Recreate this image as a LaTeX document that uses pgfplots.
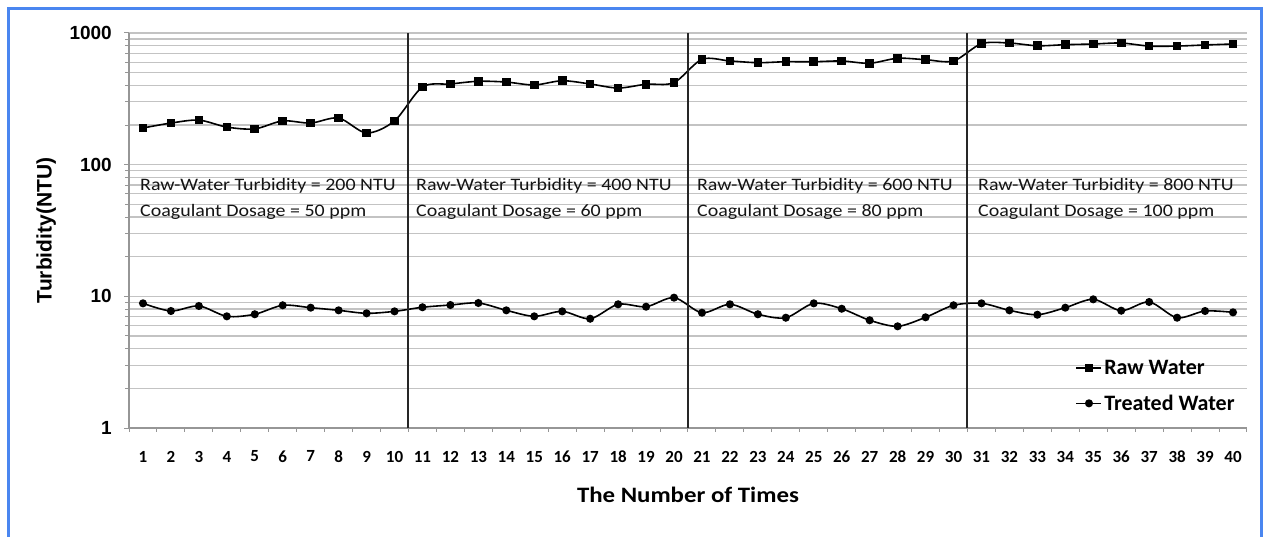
\documentclass[border=0pt]{standalone}
\usepackage{fontspec}
\setmainfont{Carlito}
\newfontfamily\arial{Liberation Sans}
\newfontfamily\annfont{Carlito}[FakeStretch=1.14]
\newfontfamily\labfont{Carlito}[FakeStretch=1.13]
\usepackage{pgfplots}
\pgfplotsset{compat=1.18}
\definecolor{frameblue}{RGB}{74,134,240}
\definecolor{gridgray}{RGB}{195,195,195}
\definecolor{axisgray}{RGB}{150,150,150}
\definecolor{txt}{RGB}{20,20,20}
\begin{document}
\begin{tikzpicture}
\useasboundingbox (0pt,0pt) rectangle (1264pt,536pt);
\draw[frameblue, line width=3pt] (8pt,-20pt) rectangle (1261pt,527.3pt);
\begin{axis}[
  at={(129pt,108pt)}, anchor=south west,
  scale only axis, width=1118pt, height=395pt,
  ymode=log, ymin=1, ymax=1000,
  xmin=0.5, xmax=40.5,
  axis lines*=left,
  axis line style={draw=axisgray, line width=1.2pt},
  tick align=outside,
  major tick length=5pt, minor tick length=4pt,
  tick style={draw=axisgray, line width=1pt},
  xtick={1,...,40},
  major x tick style={draw=none},
  minor xtick={0.5,1.5,...,40.5},
  ytick={1,10,100,1000},
  yticklabels={1,10,100,1000},
  minor ytick={2,3,4,5,6,7,8,9,20,30,40,50,60,70,80,90,200,300,400,500,600,700,800,900},
  ymajorgrids, yminorgrids,
  major grid style={gridgray, line width=1.2pt},
  minor grid style={gridgray, line width=1.2pt},
  /pgf/number format/assume math mode=true,
  yticklabel style={font=\fontsize{19}{22}\arial\bfseries, inner sep=0pt, anchor=east, xshift=-12pt},
  xticklabel style={font=\fontsize{17}{19}\selectfont\bfseries, inner sep=0pt, anchor=north, yshift=-17.8pt},
  xlabel={The Number of Times},
  xlabel style={font=\fontsize{22}{26}\labfont\bfseries, at={(axis description cs:0.5,-0.1696)}, anchor=center},
  ylabel={Turbidity(NTU)},
  ylabel style={font=\fontsize{21}{25}\arial\bfseries, at={(axis description cs:-0.074,0.5)}, anchor=center},
  legend style={draw=none, fill=none, at={(axis description cs:0.8466,0.1775)}, anchor=north west,
    font=\fontsize{22}{26}\selectfont\bfseries, inner sep=0pt, row sep=15pt},
  legend cell align=left,
  legend image code/.code={\draw[mark repeat=2,mark phase=2,#1] plot coordinates {(0pt,0pt)(12.5pt,0pt)(25pt,0pt)};},
]
\addplot[black, line width=1.6pt, smooth, mark=square*, mark size=3.5pt] coordinates {
  (1,190) (2,207) (3,218) (4,193) (5,187) (6,215) (7,207) (8,226) (9,174) (10,215)
  (11,389) (12,410) (13,430) (14,424) (15,403) (16,434) (17,410) (18,382) (19,408) (20,420)
  (21,631) (22,613) (23,595) (24,605) (25,605) (26,613) (27,589) (28,643) (29,627) (30,613)
  (31,829) (32,839) (33,800) (34,815) (35,825) (36,839) (37,796) (38,796) (39,811) (40,825)
};
\addlegendentry{Raw Water}
\addplot[black, line width=1.6pt, smooth, mark=*, mark size=3.2pt] coordinates {
  (1,8.85) (2,7.74) (3,8.45) (4,7.05) (5,7.31) (6,8.55) (7,8.20) (8,7.83) (9,7.43) (10,7.69)
  (11,8.26) (12,8.59) (13,8.90) (14,7.83) (15,7.05) (16,7.69) (17,6.76) (18,8.70) (19,8.34) (20,9.77)
  (21,7.51) (22,8.70) (23,7.31) (24,6.88) (25,8.85) (26,8.05) (27,6.58) (28,5.92) (29,6.93) (30,8.55)
  (31,8.85) (32,7.83) (33,7.25) (34,8.20) (35,9.49) (36,7.78) (37,9.06) (38,6.88) (39,7.74) (40,7.56)
};
\addlegendentry{Treated Water}
\draw[black!85, line width=2pt] (axis cs:10.5,1) -- (axis cs:10.5,1000);
\draw[black!85, line width=2pt] (axis cs:20.5,1) -- (axis cs:20.5,1000);
\draw[black!85, line width=2pt] (axis cs:30.5,1) -- (axis cs:30.5,1000);
\tikzset{ann/.style={anchor=base west, inner sep=0pt, text=txt, font=\fontsize{17.5}{20}\annfont}}
\node[ann] at (axis cs:0.893,63.1) {Raw-Water Turbidity = 200 NTU};
\node[ann] at (axis cs:0.893,40.2) {Coagulant Dosage = 50 ppm};
\node[ann] at (axis cs:10.768,63.1) {Raw-Water Turbidity = 400 NTU};
\node[ann] at (axis cs:10.768,40.2) {Coagulant Dosage = 60 ppm};
\node[ann] at (axis cs:20.82,63.1) {Raw-Water Turbidity = 600 NTU};
\node[ann] at (axis cs:20.82,40.2) {Coagulant Dosage = 80 ppm};
\node[ann] at (axis cs:30.875,63.1) {Raw-Water Turbidity = 800 NTU};
\node[ann] at (axis cs:30.875,40.2) {Coagulant Dosage = 100 ppm};
\end{axis}
\end{tikzpicture}
\end{document}
